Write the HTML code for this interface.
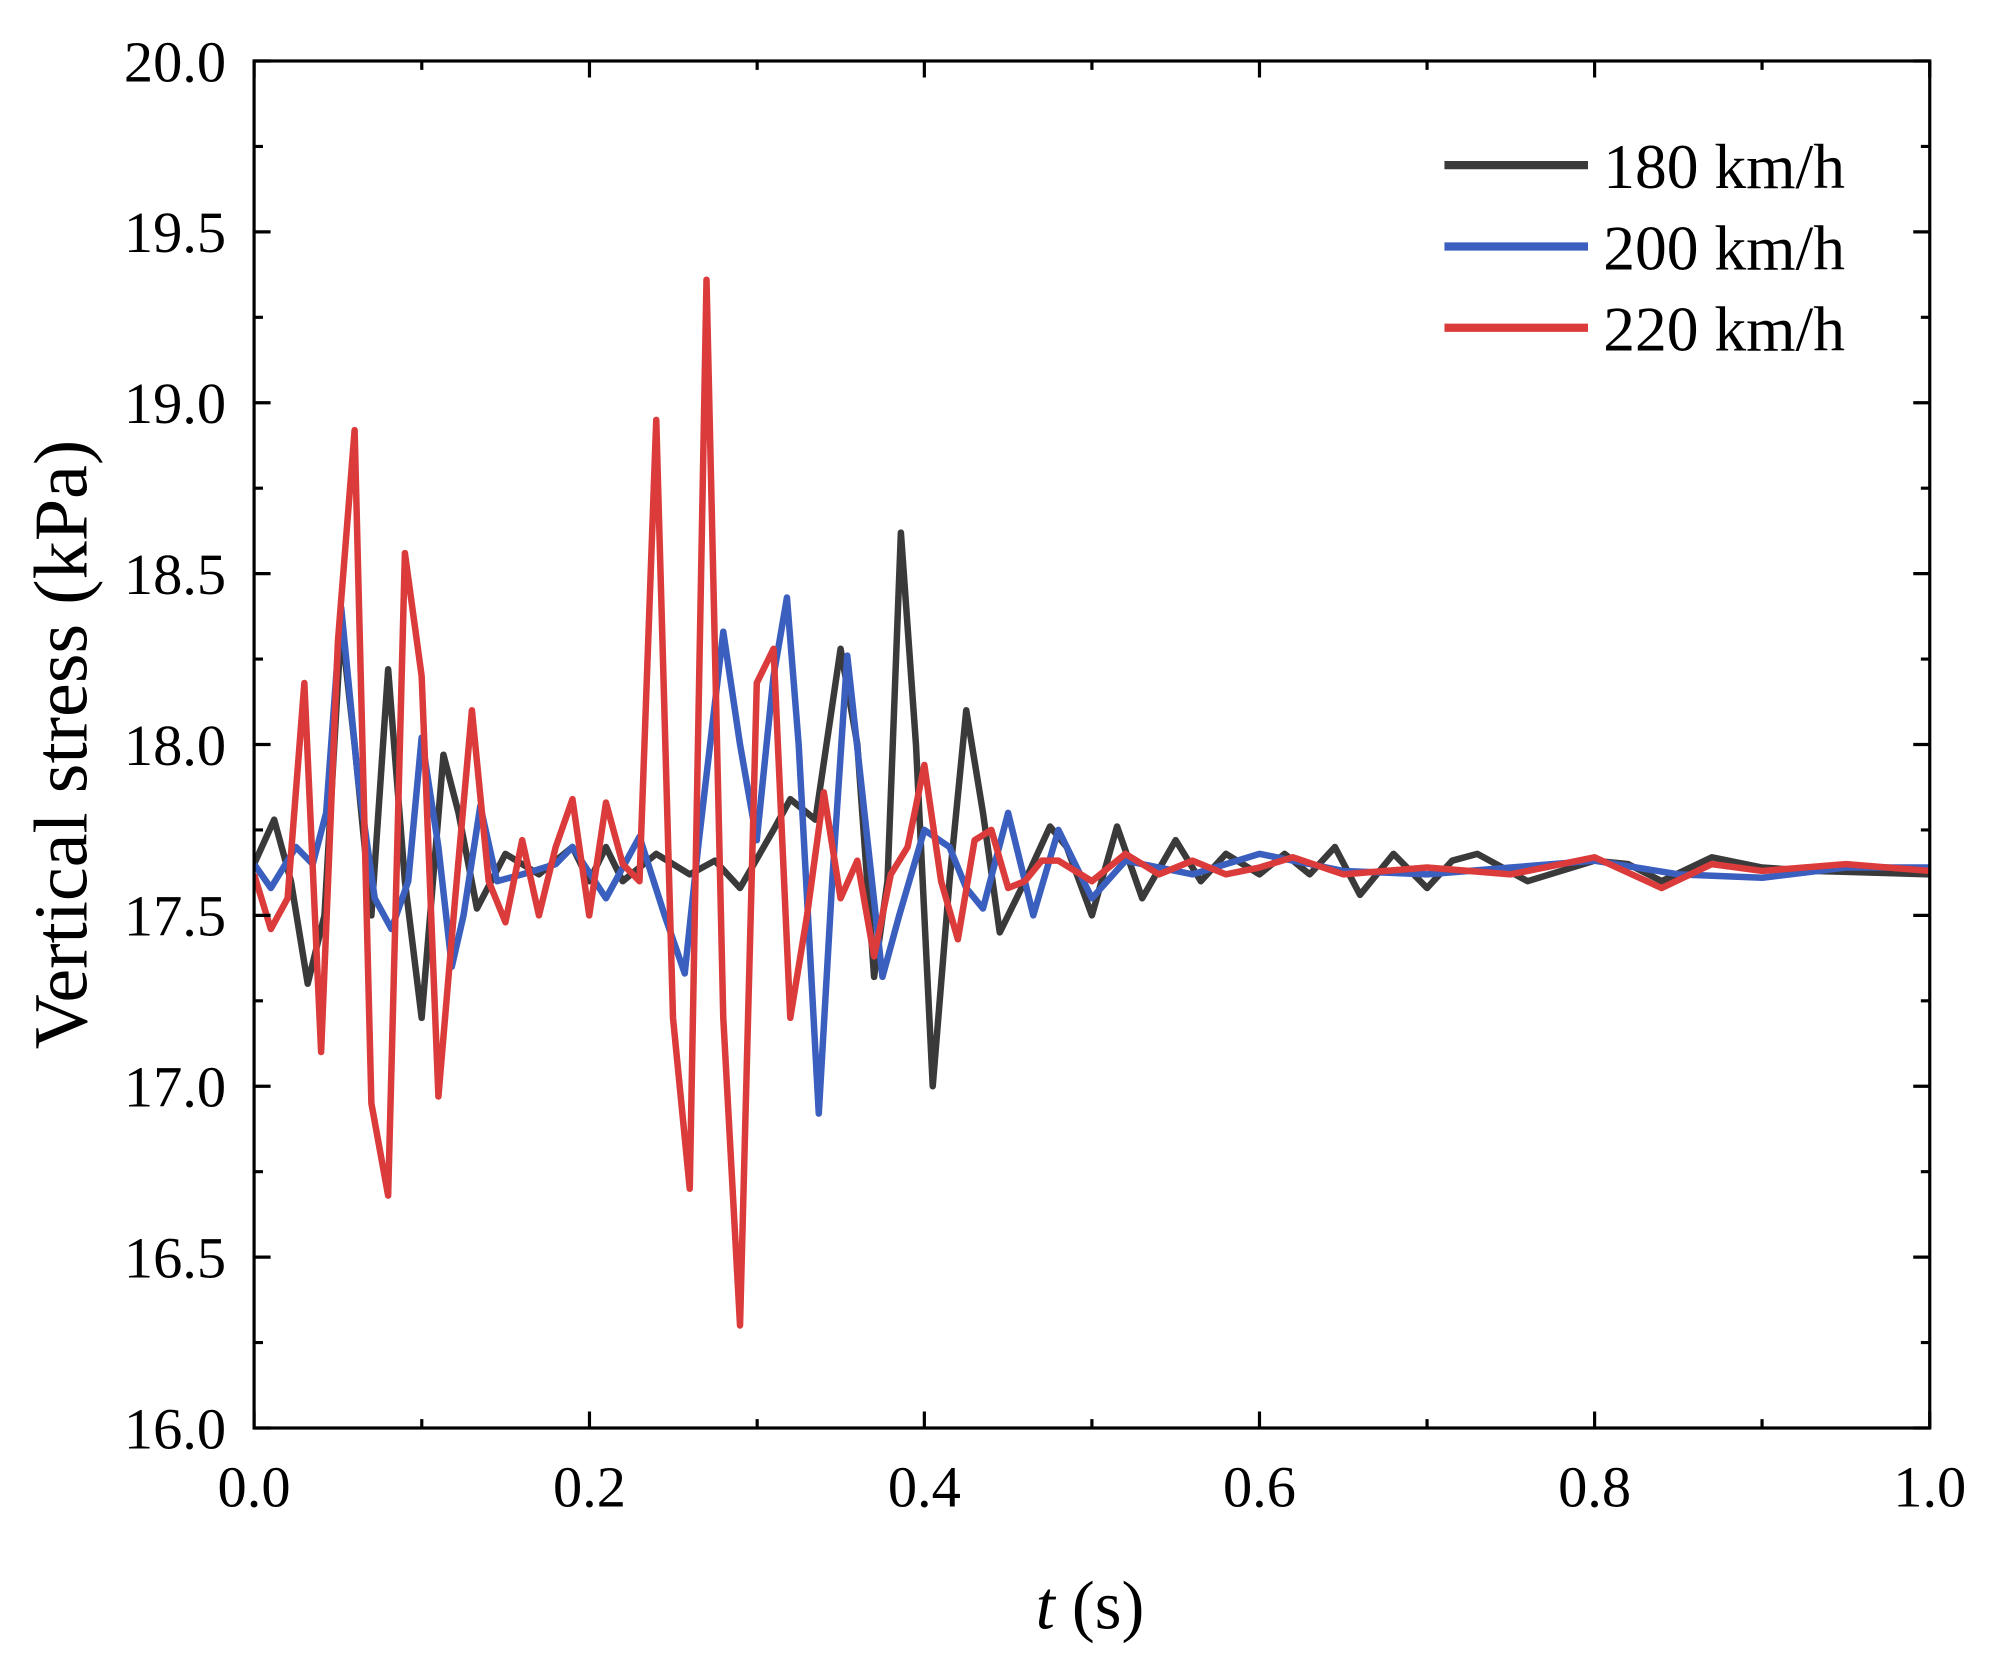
<!DOCTYPE html>
<html><head><meta charset="utf-8"><style>
html,body{margin:0;padding:0;background:#fff;}
svg{display:block;}
text{font-family:"Liberation Serif",serif;fill:#000;}
</style></head><body>
<svg width="1992" height="1669" viewBox="0 0 1568 1313.7" preserveAspectRatio="none" xmlns="http://www.w3.org/2000/svg">
<rect width="1568" height="1314" fill="#fff"/>
<defs><clipPath id="c"><rect x="200" y="48" width="1319" height="1076"/></clipPath></defs>
<g clip-path="url(#c)" fill="none" stroke-linejoin="round">
<polyline vector-effect="non-scaling-stroke" stroke="#3a3a3a" stroke-width="6.5" transform="matrix(1319 0 0 -269 200 5428)" points="0,17.65 0.012,17.78 0.022,17.6 0.032,17.3 0.042,17.5 0.052,18.35 0.06,18.0 0.07,17.5 0.08,18.22 0.09,17.6 0.1,17.2 0.113,17.97 0.122,17.8 0.133,17.52 0.15,17.68 0.17,17.62 0.19,17.7 0.2,17.6 0.21,17.7 0.22,17.6 0.24,17.68 0.26,17.62 0.275,17.66 0.29,17.58 0.31,17.75 0.32,17.84 0.335,17.78 0.35,18.28 0.36,18.0 0.37,17.32 0.378,17.6 0.386,18.62 0.395,18.0 0.405,17.0 0.415,17.6 0.425,18.1 0.435,17.8 0.445,17.45 0.46,17.6 0.475,17.76 0.485,17.7 0.5,17.5 0.515,17.76 0.53,17.55 0.55,17.72 0.565,17.6 0.58,17.68 0.6,17.62 0.615,17.68 0.63,17.62 0.645,17.7 0.66,17.56 0.68,17.68 0.7,17.58 0.715,17.66 0.73,17.68 0.76,17.6 0.8,17.66 0.82,17.65 0.84,17.6 0.87,17.67 0.9,17.64 0.93,17.63 1.0,17.62"/>
<polyline vector-effect="non-scaling-stroke" stroke="#3b5fbf" stroke-width="6.5" transform="matrix(1319 0 0 -269 200 5428)" points="0,17.65 0.01,17.58 0.025,17.7 0.035,17.65 0.043,17.8 0.052,18.4 0.062,17.9 0.072,17.55 0.082,17.46 0.092,17.6 0.1,18.02 0.11,17.7 0.118,17.35 0.125,17.5 0.135,17.82 0.145,17.6 0.16,17.62 0.18,17.65 0.19,17.7 0.21,17.55 0.23,17.73 0.245,17.5 0.257,17.33 0.265,17.7 0.28,18.33 0.29,18.0 0.3,17.72 0.31,18.2 0.318,18.43 0.325,18.0 0.337,16.92 0.345,17.6 0.354,18.26 0.362,17.9 0.375,17.32 0.385,17.5 0.4,17.75 0.415,17.7 0.425,17.58 0.435,17.52 0.45,17.8 0.46,17.6 0.465,17.5 0.48,17.75 0.5,17.55 0.52,17.66 0.56,17.62 0.6,17.68 0.65,17.63 0.7,17.62 0.75,17.64 0.8,17.66 0.85,17.62 0.9,17.61 0.95,17.64 1.0,17.64"/>
<polyline vector-effect="non-scaling-stroke" stroke="#db3b3b" stroke-width="6.5" transform="matrix(1319 0 0 -269 200 5428)" points="0,17.62 0.01,17.46 0.02,17.55 0.03,18.18 0.04,17.1 0.05,18.3 0.06,18.92 0.07,16.95 0.08,16.68 0.09,18.56 0.1,18.2 0.11,16.97 0.12,17.55 0.13,18.1 0.14,17.6 0.15,17.48 0.16,17.72 0.17,17.5 0.18,17.7 0.19,17.84 0.2,17.5 0.21,17.83 0.22,17.65 0.23,17.6 0.24,18.95 0.25,17.2 0.26,16.7 0.27,19.36 0.28,17.2 0.29,16.3 0.3,18.18 0.31,18.28 0.32,17.2 0.33,17.5 0.34,17.86 0.35,17.55 0.36,17.66 0.37,17.38 0.38,17.62 0.39,17.7 0.4,17.94 0.41,17.6 0.42,17.43 0.43,17.72 0.44,17.75 0.45,17.58 0.46,17.6 0.47,17.66 0.48,17.66 0.5,17.6 0.52,17.68 0.54,17.62 0.56,17.66 0.58,17.62 0.6,17.64 0.62,17.67 0.65,17.62 0.7,17.64 0.75,17.62 0.8,17.67 0.84,17.58 0.87,17.65 0.9,17.63 0.95,17.65 1.0,17.63"/>
</g>
<rect x="200" y="48" width="1319" height="1076" fill="none" stroke="#000" stroke-width="2.5"/>
<g stroke="#000" stroke-width="2.5">
<path d="M200,1124v-13M464,1124v-13M727.6,1124v-13M991.4,1124v-13M1255.2,1124v-13M1519,1124v-13
M200,48v13M464,48v13M727.6,48v13M991.4,48v13M1255.2,48v13M1519,48v13
M332,1124v-7M596,1124v-7M859.5,1124v-7M1123.3,1124v-7M1387,1124v-7
M332,48v7M596,48v7M859.5,48v7M1123.3,48v7M1387,48v7
M200,48h13M200,182.5h13M200,317h13M200,451.5h13M200,586h13M200,720.5h13M200,855h13M200,989.5h13M200,1124h13
M1519,48h-13M1519,182.5h-13M1519,317h-13M1519,451.5h-13M1519,586h-13M1519,720.5h-13M1519,855h-13M1519,989.5h-13M1519,1124h-13
M200,115.25h7M200,249.75h7M200,384.25h7M200,518.75h7M200,653.25h7M200,787.75h7M200,922.25h7M200,1056.75h7
M1519,115.25h-7M1519,249.75h-7M1519,384.25h-7M1519,518.75h-7M1519,653.25h-7M1519,787.75h-7M1519,922.25h-7M1519,1056.75h-7"/>
</g>
<g font-size="46" text-anchor="end">
<text x="178" y="64">20.0</text><text x="178" y="198.5">19.5</text><text x="178" y="333">19.0</text>
<text x="178" y="467.5">18.5</text><text x="178" y="602">18.0</text><text x="178" y="736.5">17.5</text>
<text x="178" y="871">17.0</text><text x="178" y="1005.5">16.5</text><text x="178" y="1140">16.0</text>
</g>
<g font-size="46" text-anchor="middle">
<text x="200" y="1186">0.0</text><text x="464" y="1186">0.2</text><text x="727.6" y="1186">0.4</text>
<text x="991.4" y="1186">0.6</text><text x="1255.2" y="1186">0.8</text><text x="1519" y="1186">1.0</text>
</g>
<text x="858" y="1282" font-size="54" text-anchor="middle"><tspan font-style="italic">t</tspan> (s)</text>
<text transform="translate(68,586) rotate(-90)" font-size="60" text-anchor="middle">Vertical stress (kPa)</text>
<g stroke-width="6.5">
<line x1="1137" y1="130" x2="1250" y2="130" stroke="#3a3a3a"/>
<line x1="1137" y1="194" x2="1250" y2="194" stroke="#3b5fbf"/>
<line x1="1137" y1="258" x2="1250" y2="258" stroke="#db3b3b"/>
</g>
<g font-size="50">
<text x="1262" y="148">180 km/h</text>
<text x="1262" y="212">200 km/h</text>
<text x="1262" y="276">220 km/h</text>
</g>
</svg>
</body></html>
